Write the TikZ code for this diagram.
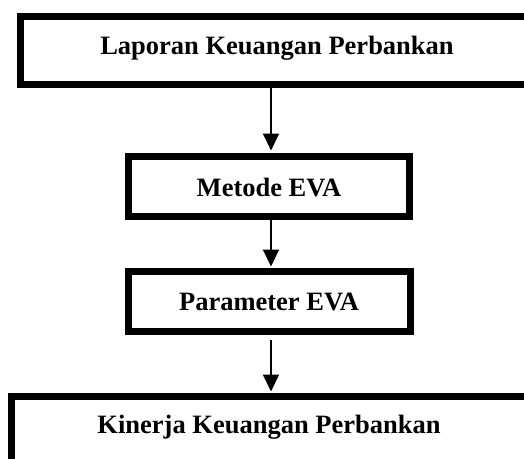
\documentclass[tikz,border=0pt]{standalone}
\usepackage{fontspec}
\setmainfont{Liberation Serif}
\usetikzlibrary{arrows.meta}
\begin{document}
\begin{tikzpicture}[x=1pt,y=-1pt,
  box/.style={draw=black,line width=7pt,minimum width=#1,inner sep=0pt,outer sep=0pt,fill=none},
  lbl/.style={anchor=base,inner sep=0pt,font=\fontsize{26.5}{30}\selectfont\bfseries},
  flow/.style={line width=2pt,-{Triangle[width=16pt,length=17pt]}}]
  \useasboundingbox (0,0) rectangle (524,458);
  \clip (0,0) rectangle (524,458);
  % boxes (the two wide ones run past the page edge)
  \node[box=513pt,minimum height=68pt] (b1) at (277,50.5) {};
  \node[box=281pt,minimum height=60pt] (b2) at (269,186.5) {};
  \node[box=282pt,minimum height=60pt] (b3) at (269.5,301.5) {};
  \node[box=529pt,minimum height=80pt] (b4) at (276,436.5) {};
  % labels
  \node[lbl] (t1) at (277,54) {Laporan Keuangan Perbankan};
  \node[lbl] (t2) at (269,196) {Metode EVA};
  \node[lbl] (t3) at (269,310) {Parameter EVA};
  \node[lbl] (t4) at (269,433) {Kinerja Keuangan Perbankan};
  % connectors
  \coordinate (ax) at (271,0);
  \draw[flow,shorten >=6pt] (b1.south -| ax) -- (b2.north -| ax);
  \draw[flow,shorten >=5pt] (b2.south -| ax) -- (b3.north -| ax);
  \draw[flow,shorten <=8pt,shorten >=5pt] (b3.south -| ax) -- (b4.north -| ax);
\end{tikzpicture}
\end{document}
